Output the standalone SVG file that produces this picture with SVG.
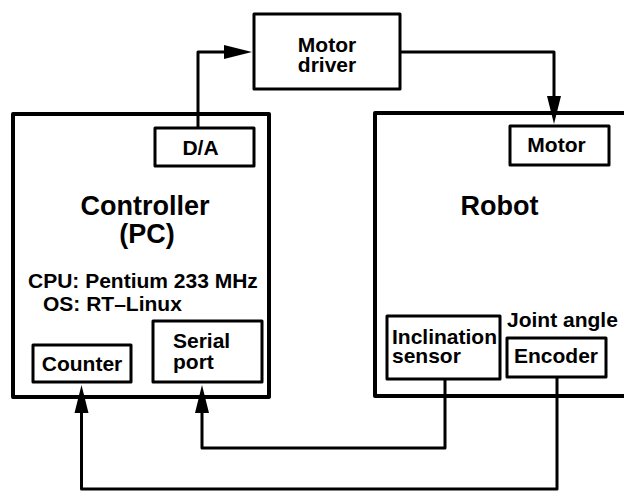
<svg xmlns="http://www.w3.org/2000/svg" width="624" height="491" viewBox="0 0 624 491">
  <style>
    .big { fill: none; stroke: #000; stroke-width: 4; stroke-linejoin: round; }
    .box { fill: #fff; stroke: #000; stroke-width: 3; stroke-linejoin: round; }
    .wire { fill: none; stroke: #000; stroke-width: 3; stroke-linejoin: round; marker-end: url(#arrow); }
    text { font-family: "Liberation Sans", Arial, Helvetica, sans-serif; font-weight: bold; fill: #000; }
    .t21 { font-size: 21px; }
    .t27 { font-size: 27px; }
    .mid { text-anchor: middle; }
  </style>
  <defs>
    <marker id="arrow" markerUnits="userSpaceOnUse" markerWidth="28" markerHeight="14" refX="8" refY="7" orient="auto" overflow="visible">
      <path d="M0,0 L28,7 L0,14 z" fill="#000"/>
    </marker>
  </defs>
  <rect width="624" height="491" fill="#fff"/>

  <!-- Controller (PC) -->
  <g id="controller">
    <rect class="big" x="13" y="114" width="256" height="283"/>
    <text class="t27 mid" x="145" y="215">Controller</text>
    <text class="t27 mid" x="147" y="243">(PC)</text>
    <text class="t21" x="28" y="288">CPU: Pentium 233 MHz</text>
    <text class="t21" x="43" y="311">OS: RT–Linux</text>
  </g>
  <g id="da">
    <rect class="box" x="155" y="128" width="99" height="38"/>
    <text class="t21 mid" x="200.5" y="155">D/A</text>
  </g>
  <g id="counter">
    <rect class="box" x="33" y="345" width="98" height="37"/>
    <text class="t21 mid" x="82" y="371">Counter</text>
  </g>
  <g id="serial">
    <rect class="box" x="153" y="321" width="109" height="61"/>
    <text class="t21" x="173" y="348">Serial</text>
    <text class="t21" x="173" y="369">port</text>
  </g>

  <!-- Motor driver -->
  <g id="driver">
    <rect class="box" x="254" y="14" width="146" height="75"/>
    <text class="t21 mid" x="327" y="52">Motor</text>
    <text class="t21 mid" x="327" y="72">driver</text>
  </g>

  <!-- Robot -->
  <g id="robot">
    <path class="big" d="M630,113 H375 V396 H630"/>
    <text class="t27 mid" x="499.5" y="215">Robot</text>
    <text class="t21" x="507" y="327">Joint angle</text>
  </g>
  <g id="motor">
    <rect class="box" x="510" y="126" width="99" height="39"/>
    <text class="t21 mid" x="556.5" y="152">Motor</text>
  </g>
  <g id="inclination">
    <rect class="box" x="387" y="316" width="113" height="63"/>
    <text class="t21" x="392" y="344">Inclination</text>
    <text class="t21" x="392" y="363">sensor</text>
  </g>
  <g id="encoder">
    <rect class="box" x="507" y="338" width="99" height="39"/>
    <text class="t21" x="514" y="363">Encoder</text>
  </g>

  <!-- Signal lines -->
  <g id="connectors">
    <path class="wire" d="M198,128 V52 H232"/>
    <path class="wire" d="M400,52 H554 V104"/>
    <path class="wire" d="M445,379 V448 H202 V405"/>
    <path class="wire" d="M557,377 V489 H81.5 V405"/>
  </g>
</svg>
